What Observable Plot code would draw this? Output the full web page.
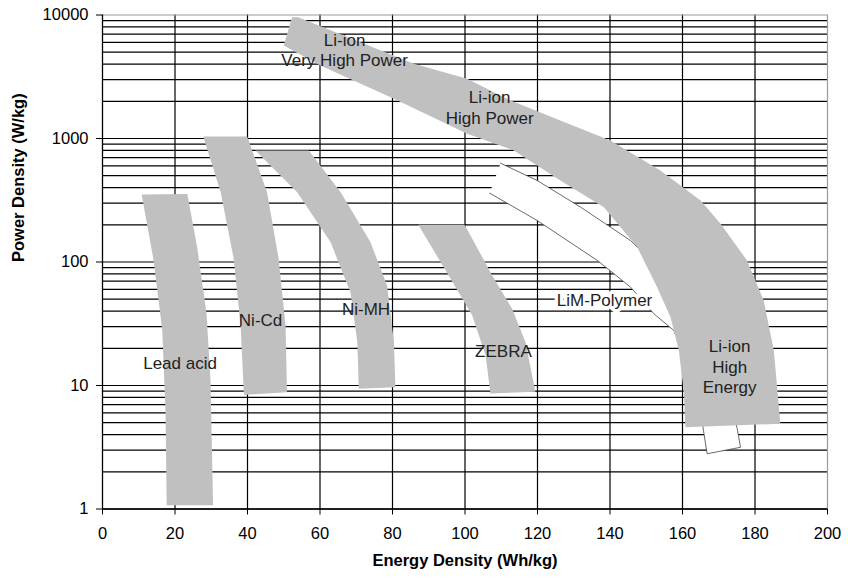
<!DOCTYPE html>
<html>
<head>
<meta charset="utf-8">
<script src="https://cdn.jsdelivr.net/npm/d3@7"></script>
<script src="https://cdn.jsdelivr.net/npm/@observablehq/plot@0.6"></script>
<style>
  html, body { margin: 0; padding: 0; background: #fff; }
  #chart svg { display: block; }
</style>
</head>
<body>
<div id="chart"></div>
<script>
// Battery technology regions: [Energy density (Wh/kg), Power density (W/kg)] outline points
const leadAcid = [[10.8,352],[14.1,103],[16.5,27.9],[17.4,5.9],[17.7,1.07],[30.5,1.07],[29.8,11],[28.7,38.3],[26.1,132],[23.4,355]];
const niCd = [[27.8,1040],[32.6,367],[36.2,106],[38.1,30.6],[39.0,8.4],[50.9,8.8],[50.5,30.6],[48.6,106],[45.4,367],[39.9,1040]];
const niMH = [[42.2,800],[53.7,367],[62.9,145],[68.4,56.9],[70.3,22.4],[70.7,9.4],[80.8,9.7],[80.4,22.4],[78.5,64.5],[73.9,145],[65.7,367],[56.9,800]];
const zebra = [[87.1,200],[95.5,77.8],[102.0,36.9],[105.7,17.5],[107.0,8.6],[119.4,8.9],[116.7,22.4],[113.0,41.8],[107.5,77.8],[99.9,200]];
const liIon = [[52.3,9600],[54.0,9600],[85.9,4030],[100.6,3040],[112.6,2030],[126.3,1400],[140.1,963],[153.9,551],[165.0,315],[170.5,204],[177.8,103],[182.4,48.8],[185.2,19.2],[187.0,4.9],[160.8,4.6],[160.4,8.6],[159.0,19.2],[156.7,35.7],[153.0,62.5],[147.5,132],[138.3,278],[126.3,457],[113.5,800],[100.6,1091],[80.4,2095],[60.1,3900],[50.0,5660]];
const limPolymer = [[109.8,631],[119.9,457],[131.9,278],[145.7,149],[159.4,58.9],[169.1,19.2],[173.2,7.6],[175.1,4.46],[176.0,3.16],[166.8,2.8],[165.8,4.3],[165.0,6.3],[162.2,13.2],[157.6,27.9],[152.1,38.1],[145.7,62.5],[136.5,103],[119.9,217],[106.8,361]];

// Labels
const labelNames = ["Lead acid","Ni-Cd","Ni-MH","ZEBRA","Li-ion\nVery High Power","Li-ion\nHigh Power","Li-ion\nHigh\nEnergy"];
const labelE = [21.4, 43.6, 72.7, 110.6, 66.8, 106.8, 173.0];
const labelP = [15.3, 34.1, 42.4, 19.2, 5275, 1806, 14.4];
const limLabel = {name: "LiM-Polymer", E: 138.5, P: 48.8};

// Axes
const xTicks = [0,20,40,60,80,100,120,140,160,180,200];
const yTicks = [1,10,100,1000,10000];
const yGrid = [];
for (const d of [1,10,100,1000]) for (let k = 1; k <= 9; k++) yGrid.push(d*k);
const xGrid = [20,40,60,80,100,120,140,160,180];

const toRows = (pts, name) => pts.map(([E,P]) => ({name, E, P}));
const greyRows = [
  ...toRows(leadAcid, "Lead acid"),
  ...toRows(niCd, "Ni-Cd"),
  ...toRows(niMH, "Ni-MH"),
  ...toRows(zebra, "ZEBRA")
];
const labels = labelNames.map((name, i) => ({name, E: labelE[i], P: labelP[i]}));

const font = "'Liberation Sans', Arial, Helvetica, sans-serif";

const chart = Plot.plot({
  width: 848,
  height: 579,
  marginLeft: 102,
  marginRight: 21,
  marginTop: 14.5,
  marginBottom: 70.5,
  style: {fontFamily: font, fontSize: "16.5px", color: "#000", background: "#fff"},
  x: {domain: [0, 200]},
  y: {type: "log", domain: [1, 10000]},
  marks: [
    Plot.ruleY(yGrid, {stroke: "#000", strokeWidth: 1.2}),
    Plot.ruleX(xGrid, {stroke: "#000", strokeWidth: 1.2}),
    Plot.line(greyRows, {x: "E", y: "P", z: "name", fill: "#c0c0c0", stroke: "none"}),
    Plot.line(toRows(limPolymer, "LiM-Polymer"), {x: "E", y: "P", fill: "#fff", stroke: "#444", strokeWidth: 0.8}),
    Plot.line(toRows(liIon, "Li-ion"), {x: "E", y: "P", fill: "#c0c0c0", stroke: "none"}),
    Plot.ruleY([10000], {stroke: "#999", strokeWidth: 1.2}),
    Plot.ruleX([200], {stroke: "#999", strokeWidth: 1.2}),
    Plot.ruleX([0], {stroke: "#000", strokeWidth: 1.3}),
    Plot.ruleY([1], {stroke: "#000", strokeWidth: 1.3}),
    Plot.axisY({ticks: yTicks, tickFormat: d => String(d), tickSize: 6, tickPadding: 8, label: null, fontSize: 16.5}),
    Plot.axisX({ticks: xTicks, tickFormat: d => String(d), tickSize: 6, tickPadding: 12, label: null, fontSize: 16.5}),
    Plot.text(labels, {x: "E", y: "P", text: "name", fontSize: 17, fill: "#222", lineHeight: 1.22}),
    Plot.text([limLabel], {x: "E", y: "P", text: "name", fontSize: 17, fill: "#222", stroke: "#fff", strokeWidth: 7}),
    Plot.text(["Energy Density (Wh/kg)"], {frameAnchor: "bottom", dy: 57, fontWeight: "bold", fontSize: 16.5}),
    Plot.text(["Power Density (W/kg)"], {frameAnchor: "left", rotate: -90, dx: -84, fontWeight: "bold", fontSize: 16.5})
  ]
});
document.getElementById("chart").appendChild(chart);
</script>
</body>
</html>
